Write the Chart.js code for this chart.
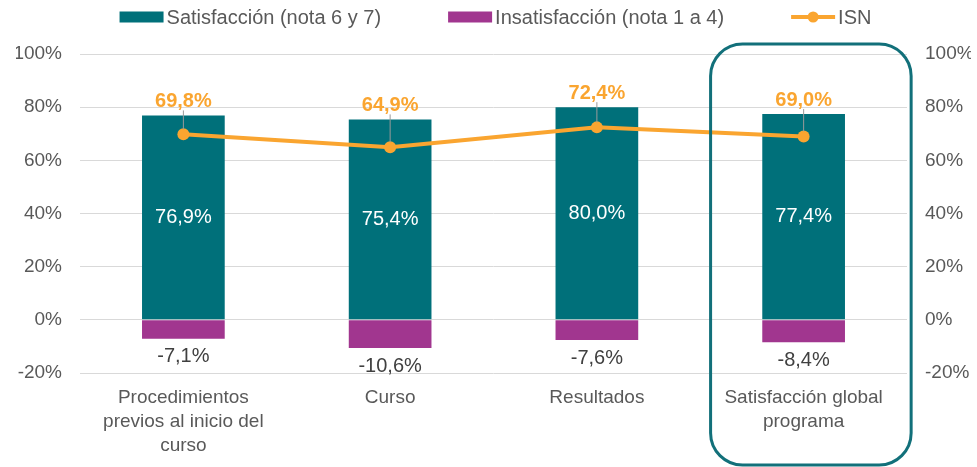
<!DOCTYPE html>
<html><head><meta charset="utf-8">
<script src="https://cdn.jsdelivr.net/npm/chart.js@4.4.0/dist/chart.umd.min.js"></script>
<style>html,body{margin:0;padding:0;background:#fff}#wrap{width:977px;height:467px}</style>
</head><body><div id="wrap"><canvas id="c" width="977" height="467"></canvas></div>
<script>
const categories = [["Procedimientos","previos al inicio del","curso"], "Curso", "Resultados", ["Satisfacción global","programa"]];
const satisfaccion = [76.9, 75.4, 80.0, 77.4];
const insatisfaccion = [-7.1, -10.6, -7.6, -8.4];
const isn = [69.8, 64.9, 72.4, 69.0];
const yTickValues = [-20, 0, 20, 40, 60, 80, 100];
const seriesNames = ["Satisfacción (nota 6 y 7)", "Insatisfacción (nota 1 a 4)", "ISN"];
const highlightIndex = 3;

const TEAL = '#00707a', PURPLE = '#a1368f', ORANGE = '#faa530', GRAY = '#595959';
const FONT = "'Liberation Sans', Arial, sans-serif";
const fmt = v => v.toFixed(1).replace('.', ',') + '%';

const labelsPlugin = {
  id: 'labelsPlugin',
  afterDatasetsDraw(chart) {
    const ctx = chart.ctx;
    const m0 = chart.getDatasetMeta(0), m1 = chart.getDatasetMeta(1), m2 = chart.getDatasetMeta(2);
    ctx.save();
    ctx.textAlign = 'center';
    ctx.textBaseline = 'middle';
    m0.data.forEach((b, i) => {
      ctx.font = "20px " + FONT;
      ctx.fillStyle = '#ffffff';
      ctx.fillText(fmt(satisfaccion[i]), b.x, (b.y + b.base) / 2);
    });
    m1.data.forEach((b, i) => {
      ctx.font = "20px " + FONT;
      ctx.fillStyle = '#404040';
      ctx.fillText(fmt(insatisfaccion[i]), b.x, b.y + 18);
    });
    m2.data.forEach((p, i) => {
      const top = m0.data[i].y;
      const ly = top - 14;
      ctx.strokeStyle = '#9a9a9a';
      ctx.lineWidth = 1;
      ctx.beginPath();
      ctx.moveTo(p.x, ly + 9);
      ctx.lineTo(p.x, p.y - 5);
      ctx.stroke();
      ctx.font = "bold 20px " + FONT;
      ctx.fillStyle = ORANGE;
      ctx.fillText(fmt(isn[i]), p.x, ly);
    });
    ctx.restore();
  },
  afterDraw(chart) {
    const ctx = chart.ctx;
    const xs = chart.scales.x, ys = chart.scales.y;
    const step = xs.width / categories.length;
    const cx = xs.getPixelForValue(highlightIndex);
    const l = cx - 0.45 * step, r = cx + 0.52 * step;
    const t = ys.getPixelForValue(100) - 10, b = chart.height - 2;
    ctx.save();
    ctx.strokeStyle = '#12707a';
    ctx.lineWidth = 3;
    ctx.beginPath();
    ctx.roundRect(l, t, r - l, b - t, 32);
    ctx.stroke();
    // legend
    ctx.font = "20px " + FONT;
    ctx.textBaseline = 'middle';
    ctx.textAlign = 'left';
    const ly = 17, bw = 44, bh = 11, tgap = 3, igap = 67;
    const widths = seriesNames.map(n => bw + tgap + ctx.measureText(n).width);
    const total = widths.reduce((a, w) => a + w, 0) + igap * (widths.length - 1);
    let x = (chart.chartArea.left + chart.chartArea.right) / 2 - total / 2 + 2;
    const colors = [TEAL, PURPLE, ORANGE];
    seriesNames.forEach((name, i) => {
      if (i < 2) {
        ctx.fillStyle = colors[i];
        ctx.fillRect(x, ly - bh / 2, bw, bh);
      } else {
        ctx.strokeStyle = ORANGE;
        ctx.lineWidth = 4;
        ctx.beginPath();
        ctx.moveTo(x, ly);
        ctx.lineTo(x + bw, ly);
        ctx.stroke();
        ctx.fillStyle = ORANGE;
        ctx.beginPath();
        ctx.arc(x + bw / 2, ly, 5.5, 0, Math.PI * 2);
        ctx.fill();
      }
      ctx.fillStyle = GRAY;
      ctx.fillText(name, x + bw + tgap, ly + 1);
      x += widths[i] + igap;
    });
    ctx.restore();
  }
};

new Chart(document.getElementById('c'), {
  data: {
    labels: categories,
    datasets: [
      { type: 'bar', label: seriesNames[0], data: satisfaccion, backgroundColor: TEAL, yAxisID: 'y', stack: 's', order: 2, barPercentage: 0.4, categoryPercentage: 1 },
      { type: 'bar', label: seriesNames[1], data: insatisfaccion, backgroundColor: PURPLE, yAxisID: 'y', stack: 's', order: 2, barPercentage: 0.4, categoryPercentage: 1 },
      { type: 'line', label: seriesNames[2], data: isn, borderColor: ORANGE, backgroundColor: ORANGE, borderWidth: 4, pointRadius: 6, pointHoverRadius: 6, pointBackgroundColor: ORANGE, pointBorderWidth: 0, yAxisID: 'y2', order: 1, tension: 0 }
    ]
  },
  options: {
    responsive: false,
    animation: false,
    devicePixelRatio: 1,
    layout: { padding: { top: 54, left: 16, right: 6, bottom: 0 } },
    plugins: { legend: { display: false }, tooltip: { enabled: false } },
    scales: {
      x: {
        stacked: true,
        afterFit: s => { s.paddingLeft = 0; s.paddingRight = 0; s.height = 94; },
        grid: { display: false, drawTicks: false },
        border: { display: false },
        ticks: { color: GRAY, font: { family: FONT, size: 19, lineHeight: 1.26 }, padding: 13, maxRotation: 0, autoSkip: false }
      },
      y: {
        stacked: true, position: 'left', min: -20, max: 100,
        afterBuildTicks: s => { s.ticks = yTickValues.map(v => ({ value: v })); },
        afterFit: s => { s.width = 64; },
        grid: { color: '#d9d9d9', drawTicks: false, lineWidth: 1 },
        border: { display: false },
        ticks: { color: GRAY, font: { family: FONT, size: 19 }, padding: 18, callback: v => v + '%' }
      },
      y2: {
        position: 'right', min: -20, max: 100,
        afterBuildTicks: s => { s.ticks = yTickValues.map(v => ({ value: v })); },
        afterFit: s => { s.width = 64; },
        grid: { display: false, drawTicks: false },
        border: { display: false },
        ticks: { color: GRAY, font: { family: FONT, size: 19 }, padding: 18, callback: v => v + '%' }
      }
    }
  },
  plugins: [labelsPlugin]
});
</script></body></html>
